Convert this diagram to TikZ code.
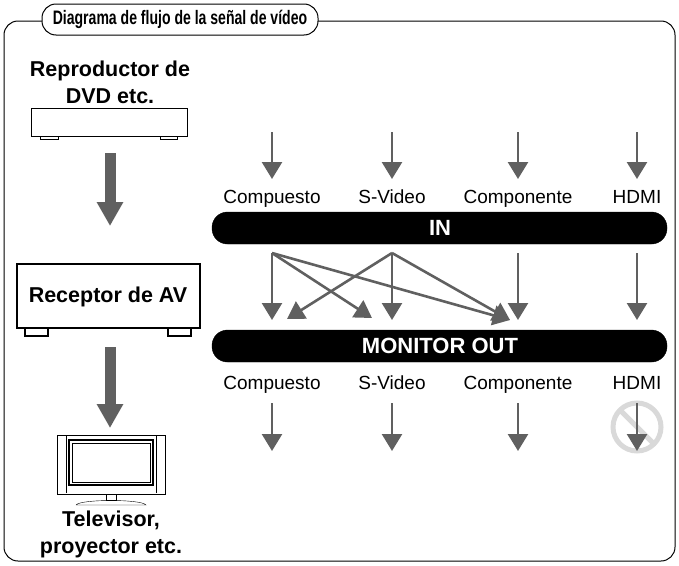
\documentclass[tikz,border=0pt]{standalone}
\usepackage{fontspec}
\setmainfont{Liberation Sans}
\usetikzlibrary{arrows.meta}
\begin{document}
\begin{tikzpicture}[x=1pt,y=-1pt,
  thin arr/.style={draw=gray!75!black,line width=2.6pt,-{Triangle[length=17pt,width=20pt]}},
  thick arr/.style={draw=gray!75!black,line width=11pt,-{Triangle[length=24pt,width=25pt]}},
  bar/.style={fill=black,rounded corners=15.5pt},
  lbl/.style={font=\fontsize{19}{22}\selectfont,anchor=base},
  big/.style={font=\bfseries\fontsize{21.5}{27}\selectfont,align=center},
  bartxt/.style={font=\bfseries\fontsize{22}{26}\selectfont,text=white}]
\useasboundingbox (0,0) rectangle (679,565);
% frame
\draw[line width=1pt,rounded corners=14pt] (42,21) -- (4,21) -- (4,561) -- (675,561) -- (675,21) -- (316,21);
\draw[line width=1pt,fill=white,rounded corners=14pt] (42,4) rectangle (318,35);
\node[font=\bfseries\fontsize{19.5}{22}\selectfont,xscale=0.72,transform shape] (title) at (180,19) {Diagrama de flujo de la señal de vídeo};
% DVD
\node[big] (dvd) at (110,82) {Reproductor de\\DVD etc.};
\draw[line width=1pt] (31,108) rectangle (187,136);
\draw (40,136) rectangle (58,139) (160,136) rectangle (177,139);
\coordinate (a1s) at (110,153); \coordinate (a1e) at (110,226);
\draw[thick arr] (a1s) -- (a1e);
% receiver
\draw[line width=2pt] (17,264) rectangle (200,328);
\node[big] (rec) at (108,297) {Receptor de AV};
\draw[line width=1.5pt] (25,328) rectangle (48,336) (168,328) rectangle (191,336);
\coordinate (a2s) at (110,347); \coordinate (a2e) at (110,428);
\draw[thick arr] (a2s) -- (a2e);
% TV
\draw (57,435) rectangle (165,494);
\draw (66,436) -- (66,493) (156,436) -- (156,493);
\draw[line width=1.2pt] (69,440) rectangle (153,485);
\draw (72,443) rectangle (150,482);
\draw (106,494) rectangle (116,500);
\draw (76,505) .. controls (80,499) and (142,499) .. (146,505) -- (76,505);
\node[big] (tv) at (111,534) {Televisor,\\proyector etc.};
% bars
\draw[bar] (212,212) rectangle (667,244);
\node[bartxt] (in) at (440,228) {IN};
\draw[bar] (212,330) rectangle (667,362);
\node[bartxt] (mo) at (440,346) {MONITOR OUT};
% columns
\foreach \x/\t [count=\i] in {272/Compuesto,392/S-Video,518/Componente,637/HDMI}{
  \coordinate (t\i) at (\x,132); \coordinate (te\i) at (\x,179);
  \draw[thin arr] (t\i) -- (te\i);
  \node[lbl] (li\i) at (\x,203) {\t};
  \coordinate (m\i) at (\x,253); \coordinate (me\i) at (\x,320);
  \draw[thin arr] (m\i) -- (me\i);
  \node[lbl] (lo\i) at (\x,389) {\t};
}
\coordinate (x1) at (372,318); \coordinate (x2) at (510,320); \coordinate (x3) at (287,319);
\draw[thin arr] (m1) -- (x1);
\draw[thin arr] (m1) -- (x2);
\draw[thin arr] (m2) -- (x3);
\draw[thin arr] (m2) -- (x2);
% prohibited
\draw[gray!30,line width=5pt] (637,427) circle (24);
\draw[gray!30,line width=5pt] (620,410) -- (654,444);
\foreach \x [count=\i] in {272,392,518,637}{
  \coordinate (b\i) at (\x,403); \coordinate (be\i) at (\x,451);
  \draw[thin arr] (b\i) -- (be\i);
}
\end{tikzpicture}
\end{document}
